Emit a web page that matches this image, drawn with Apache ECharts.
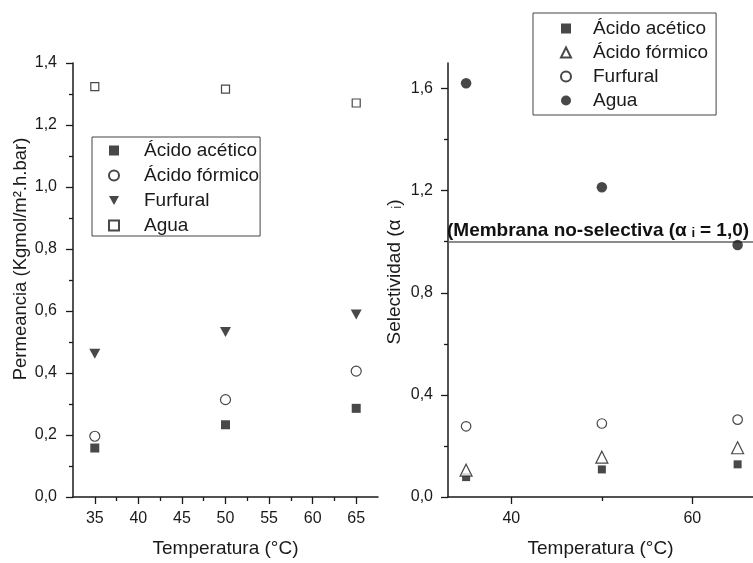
<!DOCTYPE html>
<html>
<head>
<meta charset="utf-8">
<script src="https://cdn.jsdelivr.net/npm/echarts@6/dist/echarts.min.js"></script>
<style>
  html, body { margin: 0; padding: 0; background: #fff; }
  #chart { width: 753px; height: 563px; }
</style>
</head>
<body>
<div id="chart"></div>
<script>
// temperaturas medidas (°C)
var temperaturas = [35, 50, 65];

// permeancia (Kgmol/m2.h.bar)
var permAcetico = [0.158, 0.233, 0.286];
var permFormico = [0.196, 0.314, 0.406];
var permFurfural = [0.462, 0.532, 0.589];
var permAgua = [1.324, 1.316, 1.271];

// selectividad
var selAcetico = [0.078, 0.108, 0.128];
var selFormico = [0.105, 0.156, 0.193];
var selFurfural = [0.277, 0.288, 0.303];
var selAgua = [1.621, 1.213, 0.987];

// ticks
var permXTicks = [35, 40, 45, 50, 55, 60, 65];
var permXMinor = [37.5, 42.5, 47.5, 52.5, 57.5, 62.5];
var selXTicks = [40, 60];
var selXMinor = [50];
var selYTicks = [0, 0.4, 0.8, 1.2, 1.6];
var selYMinor = [0.2, 0.6, 1.0, 1.4];
var nivelNoSelectivo = 1.0;

var nombres = ['Ácido acético', 'Ácido fórmico', 'Furfural', 'Agua'];

var ink = '#1a1a1a';
var font = 'Liberation Sans, Arial, sans-serif';
var axisLine = { show: true, lineStyle: { color: ink, width: 1.5 } };
var tickStyle = { color: ink, width: 1.3 };
var triDown = 'path://M0,0 L10,0 L5,9 Z';

function comma(v) { return v.toFixed(1).replace('.', ','); }
function pts(ys) { return temperaturas.map(function (t, i) { return [t, ys[i]]; }); }

function minorAxis(grid, min, max, values, isY) {
    var ax = {
        gridIndex: grid, type: 'value', min: min, max: max,
        axisLine: { show: false },
        axisTick: { show: true, customValues: values, length: 4, lineStyle: tickStyle },
        axisLabel: { show: false },
        splitLine: { show: false }
    };
    ax.position = isY ? 'left' : 'bottom';
    return ax;
}

var hollow = { color: '#fff', borderColor: ink, borderWidth: 1.2 };
var filled = { color: ink };

var chart = echarts.init(document.getElementById('chart'));
var option = {
    animation: false,
    textStyle: { fontFamily: font, color: ink },
    grid: [
        { left: 73, right: 375, top: 63, bottom: 65 },
        { left: 448, right: 0, top: 63, bottom: 65 }
    ],
    legend: [{
        data: nombres,
        orient: 'vertical',
        left: 92, top: 137,
        padding: [4, 1, 1, 16],
        itemWidth: 10, itemHeight: 10, itemGap: 6,
        symbolKeepAspect: true,
        borderColor: '#444', borderWidth: 1,
        selectedMode: false,
        textStyle: { fontSize: 19, lineHeight: 19, color: ink, padding: [0, 0, 0, 20] }
    }, {
        data: nombres.map(function (n) { return n + '|sel'; }),
        formatter: function (n) { return n.split('|')[0]; },
        orient: 'vertical',
        left: 533, top: 13,
        padding: [6, 8, 5, 27],
        itemWidth: 10, itemHeight: 10, itemGap: 5,
        symbolKeepAspect: true,
        borderColor: '#444', borderWidth: 1,
        selectedMode: false,
        textStyle: { fontSize: 19, lineHeight: 19, color: ink, padding: [0, 0, 0, 17] }
    }],
    xAxis: [{
        gridIndex: 0, type: 'value', min: 32.5, max: 67.5,
        axisLine: axisLine,
        axisTick: { show: true, customValues: permXTicks, length: 7, lineStyle: tickStyle },
        axisLabel: { customValues: permXTicks, margin: 14, fontSize: 16, color: ink },
        splitLine: { show: false },
        name: 'Temperatura (°C)', nameLocation: 'middle', nameGap: 42,
        nameTextStyle: { fontSize: 19, color: ink }
    },
    minorAxis(0, 32.5, 67.5, permXMinor, false),
    {
        gridIndex: 1, type: 'value', min: 33, max: 66.7,
        axisLine: axisLine,
        axisTick: { show: true, customValues: selXTicks, length: 7, lineStyle: tickStyle },
        axisLabel: { customValues: selXTicks, margin: 14, fontSize: 16, color: ink },
        splitLine: { show: false },
        name: 'Temperatura (°C)', nameLocation: 'middle', nameGap: 42,
        nameTextStyle: { fontSize: 19, color: ink }
    },
    minorAxis(1, 33, 66.7, selXMinor, false)],
    yAxis: [{
        gridIndex: 0, type: 'value', min: 0, max: 1.4, interval: 0.2,
        axisLine: axisLine,
        axisTick: { show: true, length: 7, lineStyle: tickStyle },
        minorTick: { show: true, splitNumber: 2, length: 4, lineStyle: tickStyle },
        axisLabel: { formatter: comma, margin: 16, fontSize: 16, color: ink },
        splitLine: { show: false },
        name: 'Permeancia (Kgmol/m².h.bar)', nameLocation: 'middle', nameGap: 42,
        nameTextStyle: { fontSize: 18.5, color: ink, padding: [0, 0, 0, 42] }
    }, {
        gridIndex: 1, type: 'value', min: 0, max: 1.7,
        axisLine: axisLine,
        axisTick: { show: true, customValues: selYTicks, length: 7, lineStyle: tickStyle },
        axisLabel: { customValues: selYTicks, formatter: comma, margin: 15, fontSize: 16, color: ink },
        splitLine: { show: false },
        name: 'Selectividad (α  ᵢ)', nameLocation: 'middle', nameGap: 44,
        nameTextStyle: { fontSize: 19, color: ink, padding: [0, 0, 0, 16] }
    },
    minorAxis(1, 0, 1.7, selYMinor, true)],
    series: [
        { name: nombres[0], type: 'scatter', xAxisIndex: 0, yAxisIndex: 0, data: pts(permAcetico),
          symbol: 'rect', symbolSize: 9, itemStyle: filled },
        { name: nombres[1], type: 'scatter', xAxisIndex: 0, yAxisIndex: 0, data: pts(permFormico),
          symbol: 'circle', symbolSize: 10, itemStyle: hollow },
        { name: nombres[2], type: 'scatter', xAxisIndex: 0, yAxisIndex: 0, data: pts(permFurfural),
          symbol: triDown, symbolSize: [11, 10], itemStyle: filled },
        { name: nombres[3], type: 'scatter', xAxisIndex: 0, yAxisIndex: 0, data: pts(permAgua),
          symbol: 'rect', symbolSize: 8, itemStyle: hollow },

        { name: nombres[0] + '|sel', type: 'scatter', xAxisIndex: 2, yAxisIndex: 1, data: pts(selAcetico),
          symbol: 'rect', symbolSize: 8, itemStyle: filled },
        { name: nombres[1] + '|sel', type: 'scatter', xAxisIndex: 2, yAxisIndex: 1, data: pts(selFormico),
          symbol: 'triangle', symbolSize: 12, itemStyle: hollow },
        { name: nombres[2] + '|sel', type: 'scatter', xAxisIndex: 2, yAxisIndex: 1, data: pts(selFurfural),
          symbol: 'circle', symbolSize: 9.5, itemStyle: hollow },
        { name: nombres[3] + '|sel', type: 'scatter', xAxisIndex: 2, yAxisIndex: 1, data: pts(selAgua),
          symbol: 'circle', symbolSize: 10.5, itemStyle: filled, z: 5,
          markLine: {
              silent: true, symbol: ['none', 'none'],
              lineStyle: { color: '#666', width: 1.5, type: 'solid' },
              label: {
                  show: true, position: 'insideStartTop', distance: [-1, 1],
                  formatter: '(Membrana no-selectiva (α ᵢ = 1,0)',
                  fontSize: 19, fontWeight: 'bold', color: '#111'
              },
              data: [{ yAxis: nivelNoSelectivo }]
          } }
    ]
};
chart.setOption(option);
</script>
</body>
</html>
